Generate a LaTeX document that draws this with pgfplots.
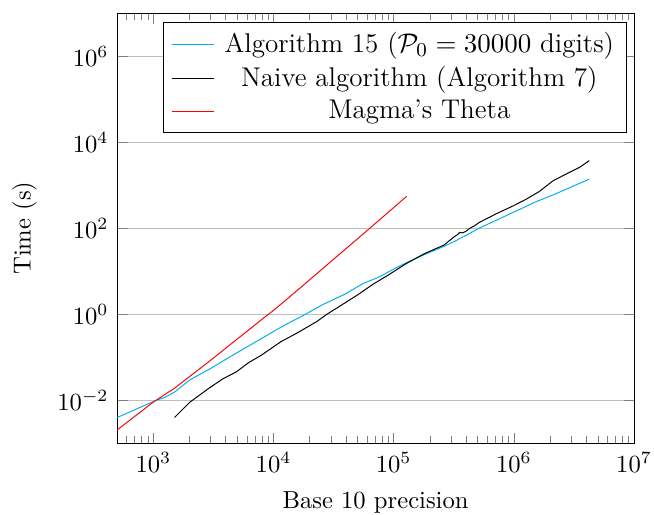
\documentclass[border=0pt]{standalone}
\usepackage{pgfplots}
\pgfplotsset{compat=1.18}
\definecolor{algcyan}{RGB}{0,174,239}
\begin{document}
\begin{tikzpicture}
\begin{loglogaxis}[
  scale only axis,
  width=210pt, height=174.8pt,
  xmin=500, xmax=1e7,
  ymin=1e-3, ymax=1e7,
  ytick={1e-2,1,1e2,1e4,1e6},
  yminorticks=false,
  ymajorgrids,
  xlabel={Base 10 precision},
  ylabel={Time (s)},
  ylabel shift=1.5pt,
  xlabel shift=1pt,
  legend cell align=center,
  legend style={at={(0.986,0.979)}, anchor=north east, column sep=2pt,
    font=\fontsize{11}{14}\selectfont},
]
\addplot[color=algcyan, legend image code/.code={\color{algcyan}\draw[algcyan, line width=0.6pt] (0cm,0cm) -- (0.6cm,0cm);}] coordinates {
(500,3.98e-3) (1000,9.33e-3) (1250,1.175e-2) (1500,1.549e-2) (2000,2.95e-2)
(3000,5.50e-2) (4000,8.91e-2) (5000,0.1288) (6000,0.1738) (8000,0.2754)
(10000,0.398) (12600,0.575) (17400,0.912) (25100,1.622) (38900,2.884)
(56200,5.248) (75000,7.244) (100000,11.22) (126000,15.49) (178000,23.99)
(263000,38.02) (324000,50.12) (417000,72.44) (513000,100) (708000,151.4)
(1047000,251.2) (1514000,407.4) (2188000,616.6) (3020000,912) (4236000,1380)
};
\addlegendentry{Algorithm 15 ($\mathcal{P}_0 = 30000$ digits)}
\addplot[color=black, legend image code/.code={\color{black}\draw[black, line width=0.6pt] (0cm,0cm) -- (0.6cm,0cm);}] coordinates {
(1500,3.98e-3) (2000,8.91e-3) (2900,1.905e-2) (3800,3.162e-2) (4900,4.571e-2)
(6170,7.413e-2) (7940,0.1122) (11500,0.2291) (15850,0.3715) (22900,0.676)
(27500,0.977) (37150,1.660) (50100,2.818) (67600,5.012) (91200,8.318)
(125900,14.79) (177800,25.12) (263000,40.74) (288400,50.5) (316200,62.0)
(338800,70.5) (354800,80.0) (371500,77.4) (398100,84.0) (416900,94.0)
(446700,105.0) (478600,117.5) (512900,134.9) (707900,213.8) (988600,331.1)
(1259000,467.7) (1622000,707.9) (2113000,1259) (2818000,1905) (3548000,2630)
(4236000,3715)
};
\addlegendentry{Naive algorithm (Algorithm 7)}
\addplot[color=red, legend image code/.code={\color{red}\draw[red, line width=0.6pt] (0cm,0cm) -- (0.6cm,0cm);}] coordinates {
(500,2.042e-3) (1000,9.12e-3) (1500,1.905e-2) (2000,3.548e-2) (3000,8.51e-2)
(4000,0.1622) (6000,0.398) (8000,0.759) (10000,1.23) (16000,3.715)
(32000,19.5) (64000,102.3) (128000,549.5)
};
\addlegendentry{Magma's Theta}
\end{loglogaxis}
\pgfresetboundingbox
\path ([shift={(-47.6pt,-28.9pt)}]current axis.south west) rectangle ([shift={(8.1pt,5.3pt)}]current axis.north east);
\end{tikzpicture}
\end{document}
